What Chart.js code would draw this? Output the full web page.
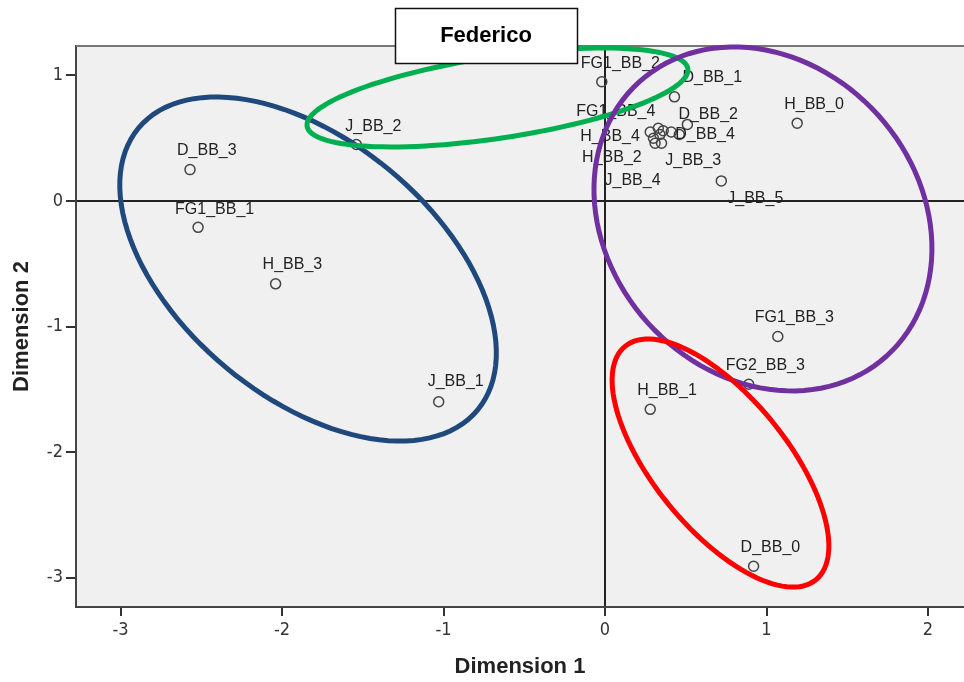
<!DOCTYPE html>
<html>
<head>
<meta charset="utf-8">
<script src="https://cdn.jsdelivr.net/npm/chart.js@4/dist/chart.umd.min.js"></script>
<style>
  html, body { margin: 0; padding: 0; background: #fff; }
</style>
</head>
<body>
<canvas id="mds" width="964" height="682"></canvas>
<script>
// object points of the MDS solution (Dimension 1 / Dimension 2)
const names = ['D_BB_0', 'D_BB_1', 'D_BB_2', 'D_BB_3', 'D_BB_4',
  'FG1_BB_1', 'FG1_BB_2', 'FG1_BB_3', 'FG1_BB_4', 'FG2_BB_3',
  'H_BB_0', 'H_BB_1', 'H_BB_2', 'H_BB_3', 'H_BB_4',
  'J_BB_1', 'J_BB_2', 'J_BB_3', 'J_BB_4', 'J_BB_5',
  '', '', '']
const dim1 = [0.92, 0.43, 0.51, -2.57, 0.46,
  -2.52, -0.02, 1.07, 0.28, 0.89,
  1.19, 0.28, 0.31, -2.04, 0.33,
  -1.03, -1.54, 0.41, 0.35, 0.72,
  0.36, 0.30, 0.34]
const dim2 = [-2.91, 0.83, 0.61, 0.25, 0.53,
  -0.21, 0.95, -1.08, 0.55, -1.46,
  0.62, -1.66, 0.46, -0.66, 0.58,
  -1.60, 0.45, 0.55, 0.46, 0.16,
  0.56, 0.50, 0.53]
const xTicks = [-3, -2, -1, 0, 1, 2]
const yTicks = [1, 0, -1, -2, -3]

// hand drawn groupings: centre + two conjugate half-axes, in data units
const groupColors = ['#1F497D', '#00B050', '#7030A0', '#FF0000']
const groupCentre = [[-1.839, -0.542], [-0.666, 0.825], [0.978, -0.143], [0.715, -2.088]]
const groupU = [[1.050, -1.123], [1.179, 0.229], [0.766, -1.092], [0.591, -0.930]]
const groupV = [[-0.507, -0.786], [0.0377, -0.321], [-0.713, -0.828], [-0.318, -0.335]]

// label placement (px from the point: text left, text middle)
const labelShift = {
  'D_BB_1': [8, -19], 'D_BB_2': [-9, -10], 'D_BB_4': [-4, 0],
  'FG1_BB_1': [-23, -18], 'FG1_BB_2': [-21, -18], 'FG1_BB_3': [-23, -19],
  'FG1_BB_4': [-74, -20], 'FG2_BB_3': [-23, -19],
  'H_BB_2': [-73, 14], 'H_BB_4': [-78, 8],
  'J_BB_1': [-11, -20], 'J_BB_2': [-11, -18],
  'J_BB_3': [-6, 29], 'J_BB_4': [-57, 37], 'J_BB_5': [6, 18]
}

const points = names.map((n, i) => ({x: dim1[i], y: dim2[i]}))

const plotFrame = {
  id: 'plotFrame',
  beforeDraw(chart) {
    const {ctx, chartArea: a} = chart
    ctx.save()
    ctx.fillStyle = '#f0f0f0'
    ctx.fillRect(a.left, a.top, a.right - a.left, a.bottom - a.top)
    ctx.restore()
  },
  afterDatasetsDraw(chart) {
    const {ctx, chartArea: a} = chart
    const meta = chart.getDatasetMeta(0)
    ctx.save()
    // point labels
    ctx.font = '16px "Liberation Sans", Arial, sans-serif'
    ctx.fillStyle = '#222'
    ctx.textBaseline = 'middle'
    ctx.textAlign = 'left'
    meta.data.forEach((pt, i) => {
      const n = names[i]
      if (!n) return
      const s = labelShift[n] || [-13, -19]
      ctx.fillText(n, pt.x + s[0], pt.y + s[1])
    })
    // top edge of the plot
    ctx.strokeStyle = '#777'
    ctx.lineWidth = 2
    ctx.beginPath()
    ctx.moveTo(a.left, a.top)
    ctx.lineTo(a.right, a.top)
    ctx.stroke()
    // group ellipses
    const xs = chart.scales.x, ys = chart.scales.y
    groupColors.forEach((col, g) => {
      ctx.strokeStyle = col
      ctx.lineWidth = 5
      ctx.beginPath()
      for (let k = 0; k <= 120; k++) {
        const t = k / 120 * Math.PI * 2
        const dx = groupCentre[g][0] + groupU[g][0] * Math.cos(t) + groupV[g][0] * Math.sin(t)
        const dy = groupCentre[g][1] + groupU[g][1] * Math.cos(t) + groupV[g][1] * Math.sin(t)
        const px = xs.getPixelForValue(dx), py = ys.getPixelForValue(dy)
        if (k === 0) ctx.moveTo(px, py); else ctx.lineTo(px, py)
      }
      ctx.closePath()
      ctx.stroke()
    })
    // title box
    ctx.fillStyle = '#fff'
    ctx.fillRect(395, 8, 182, 55)
    ctx.strokeStyle = '#111'
    ctx.lineWidth = 1.5
    ctx.strokeRect(395.5, 8.5, 182, 55)
    ctx.fillStyle = '#000'
    ctx.font = 'bold 22px "Liberation Sans", Arial, sans-serif'
    ctx.textAlign = 'center'
    ctx.fillText('Federico', 486, 36)
    ctx.restore()
  }
}

const tickFont = {family: '"Liberation Sans Narrow", "DejaVu Sans Condensed", Arial, sans-serif', size: 18}
const titleFont = {family: '"Liberation Sans", Arial, sans-serif', size: 22, weight: 'bold'}
const zeroLine = c => (c.tick && c.tick.value === 0) ? '#222' : 'rgba(0,0,0,0)'

new Chart(document.getElementById('mds'), {
  type: 'scatter',
  data: {
    datasets: [{
      label: 'Object Points',
      data: points,
      pointStyle: 'circle',
      pointRadius: 5,
      pointHoverRadius: 5,
      backgroundColor: 'rgba(0,0,0,0)',
      borderColor: '#444',
      borderWidth: 1.5
    }]
  },
  options: {
    responsive: false,
    animation: false,
    devicePixelRatio: 1,
    layout: {autoPadding: false, padding: {top: 46, right: 0, left: 0, bottom: 0}},
    plugins: {legend: {display: false}, tooltip: {enabled: false}},
    scales: {
      x: {
        type: 'linear',
        min: -3.276,
        max: 2.223,
        afterBuildTicks: s => { s.ticks = xTicks.map(v => ({value: v})) },
        afterFit: s => { s.height = 75 },
        ticks: {font: tickFont, color: '#333', padding: 4, callback: v => v},
        grid: {color: zeroLine, lineWidth: 2, tickColor: '#333', tickLength: 9, tickWidth: 2},
        border: {display: true, color: '#444', width: 2},
        title: {display: true, text: 'Dimension 1', font: titleFont, color: '#222', padding: {top: 0, bottom: 2}}
      },
      y: {
        type: 'linear',
        min: -3.235,
        max: 1.235,
        afterBuildTicks: s => { s.ticks = yTicks.map(v => ({value: v})) },
        afterFit: s => { s.width = 76 },
        ticks: {font: tickFont, color: '#333', padding: 3, callback: v => v},
        grid: {color: zeroLine, lineWidth: 2, tickColor: '#333', tickLength: 10, tickWidth: 2},
        border: {display: true, color: '#444', width: 2},
        title: {display: true, text: 'Dimension 2', font: titleFont, color: '#222', padding: {top: 9, bottom: 0}}
      }
    }
  },
  plugins: [plotFrame]
})
</script>
</body>
</html>
